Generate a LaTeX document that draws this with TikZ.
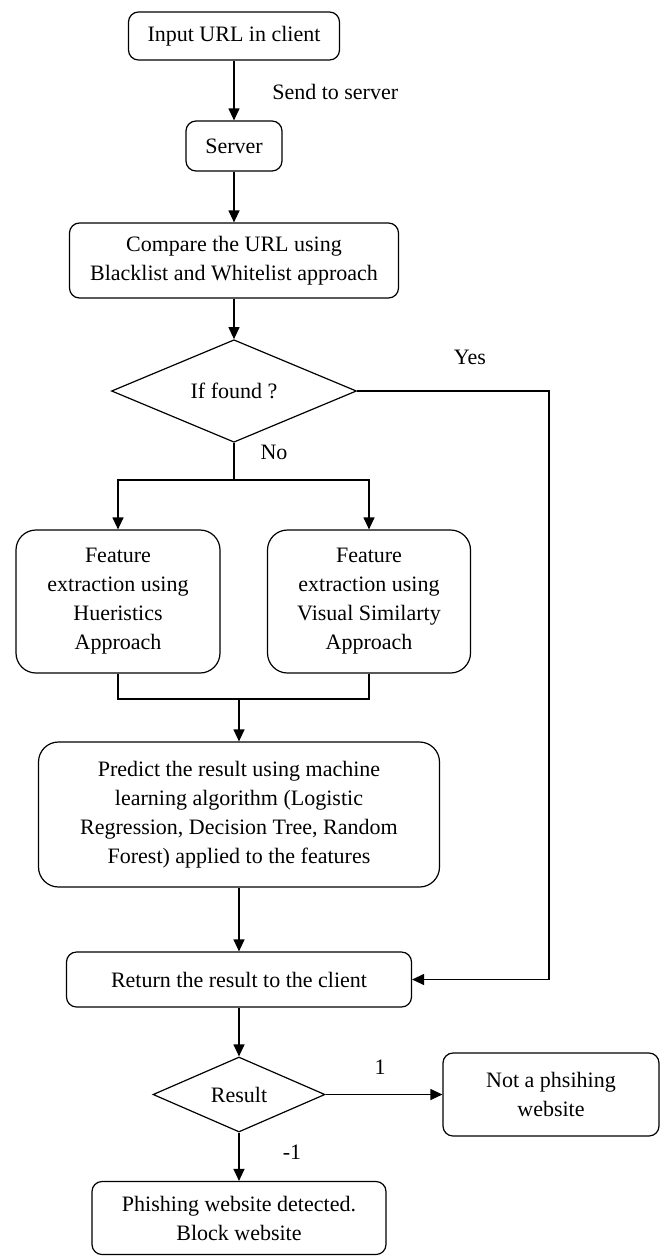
\documentclass[tikz,border=0pt]{standalone}
\usepackage{fontspec}
\setmainfont{Liberation Serif}
\usetikzlibrary{arrows.meta,shapes.geometric}

\begin{document}
\begin{tikzpicture}[x=0.5pt,y=-0.5pt,line width=0.6pt]
\tikzstyle{every node}=[font=\fontsize{11}{14.5}\selectfont, align=center]
\tikzstyle{stepbox}=[draw, rectangle, rounded corners=5pt, inner sep=2pt]
\tikzstyle{bigbox}=[draw, rectangle, rounded corners=10pt, inner sep=2pt]
\tikzstyle{choice}=[draw, diamond, inner sep=0pt]
\tikzstyle{arr}=[-{Triangle[length=6pt,width=5.5pt]}]
\useasboundingbox (0,0) rectangle (662,1259);
\draw (234,36) node (client) [stepbox,minimum width=105.5pt,minimum height=24pt] {Input URL in client};
\draw (234,146) node (server) [stepbox,minimum width=48pt,minimum height=25pt] {Server};
\draw (234,260.5) node (compare) [stepbox,minimum width=164.5pt,minimum height=37.5pt] {Compare the URL using\\Blacklist and Whitelist approach};
\draw (234,391) node (found) [choice,minimum width=122.5pt,minimum height=38.5pt] {If found ?};
\draw (118,601.5) node (heur) [bigbox,minimum width=102pt,minimum height=71.5pt] {Feature\\extraction using\\Hueristics\\Approach};
\draw (369,601.5) node (visual) [bigbox,minimum width=101.5pt,minimum height=71.5pt] {Feature\\extraction using\\Visual Similarty\\Approach};
\draw (239,814.5) node (predict) [bigbox,minimum width=200.5pt,minimum height=72.5pt] {Predict the result using machine\\learning algorithm (Logistic\\Regression, Decision Tree, Random\\Forest) applied to the features};
\draw (239,979.5) node (ret) [stepbox,minimum width=172.5pt,minimum height=27.5pt] {Return the result to the client};
\draw (239,1094.5) node (result) [choice,minimum width=86pt,minimum height=37.5pt] {Result};
\draw (551,1094.5) node (safe) [stepbox,minimum width=108pt,minimum height=41.5pt] {Not a phsihing\\website};
\draw (239,1218) node (phish) [stepbox,minimum width=147pt,minimum height=36.5pt] {Phishing website detected.\\Block website};
\coordinate (split) at (234,480);
\coordinate (merge) at (239,699);
\coordinate (yes) at (549,391);
\draw[arr] (client) -- (server);
\draw[arr] (server) -- (compare);
\draw[arr] (compare) -- (found);
\draw (found.south) -- (split);
\draw[arr] (split) -| (heur.north);
\draw[arr] (split) -| (visual.north);
\draw (heur.south) |- (merge);
\draw (visual.south) |- (merge);
\draw[arr] (merge) -- (predict);
\draw[arr] (predict) -- (ret);
\draw[arr] (found.east) -- (yes) |- (ret.east);
\draw[arr] (ret) -- (result);
\draw[arr] (result.east) -- (safe.west);
\draw[arr] (result.south) -- (phish);
\draw (265,92) node (sendlbl) [anchor=west] {Send to server};
\draw (470,357) node (yeslbl) {Yes};
\draw (274,452) node (nolbl) {No};
\draw (380,1067) node (onelbl) {1};
\draw (292,1152) node (minuslbl) {-1};
\end{tikzpicture}
\end{document}
